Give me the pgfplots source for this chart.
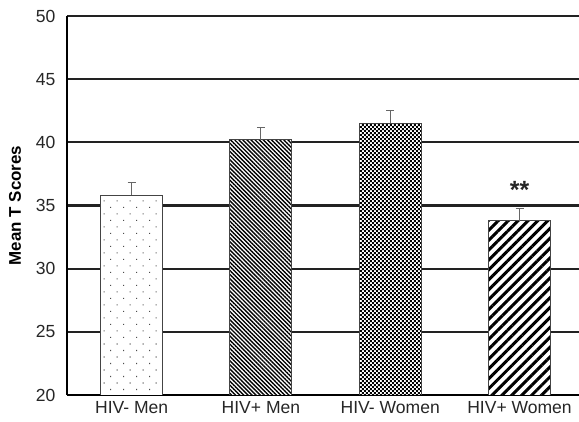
\documentclass[border=0pt]{standalone}
\usepackage{pgfplots}
\pgfplotsset{compat=1.18}
\usepackage{fontspec}
\setmainfont{Liberation Sans}
\usetikzlibrary{patterns,patterns.meta}

% small staggered squares for the HIV- Women bar
\pgfdeclarepatternformonly{checks}{\pgfpointorigin}{\pgfpoint{4.4bp}{4.4bp}}{\pgfpoint{4.4bp}{4.4bp}}{%
  \pgfpathrectangle{\pgfpointorigin}{\pgfpoint{2.1bp}{2.1bp}}%
  \pgfpathrectangle{\pgfpoint{2.2bp}{2.2bp}}{\pgfpoint{2.1bp}{2.1bp}}%
  \pgfusepath{fill}}

\definecolor{gridc}{HTML}{222222}
\definecolor{edgec}{HTML}{444444}

\begin{document}
\begin{tikzpicture}
  \begin{axis}[
    scale only axis,
    width=512bp, height=379bp,
    xmin=-0.5, xmax=3.46,
    ymin=20, ymax=50,
    ytick={20,25,...,50},
    xtick={0,1,2,3},
    xticklabels={HIV- Men, HIV+ Men, HIV- Women, HIV+ Women},
    axis x line=bottom, axis y line=left,
    axis line style={line width=2.4bp, black, -},
    major tick length=0pt,
    ymajorgrids=true,
    grid style={line width=2.1bp, gridc},
    tick label style={font=\fontsize{17.6}{20}\selectfont, text=black!85},
    /pgf/number format/assume math mode=true,
    yticklabel style={xshift=-8bp},
    xticklabel style={yshift=-3bp},
    ylabel={\bfseries Mean T Scores},
    ylabel style={font=\fontsize{17}{19}\selectfont, yshift=8bp},
    ybar, bar width=62bp,
    every axis plot/.append style={bar shift=0pt, draw=edgec, line width=0.9bp},
    error bars/y dir=plus, error bars/y explicit,
    error bars/error bar style={line width=1bp, gray!80!black},
    error bars/error mark options={rotate=90, mark size=4bp, line width=1bp, gray!80!black},
  ]
    \addplot[fill=white, postaction={pattern={Dots[distance=9.2bp, radius=0.8bp, angle=45]}, pattern color=black!70}]
      coordinates {(0,35.8) +- (0,1.0)};
    \addplot[fill=white, postaction={pattern={Lines[angle=-45, distance=2.9bp, line width=1.4bp]}, pattern color=black}]
      coordinates {(1,40.2) +- (0,1.0)};
    \addplot[fill=white, postaction={pattern=checks, pattern color=black}]
      coordinates {(2,41.5) +- (0,1.0)};
    \addplot[fill=white, postaction={pattern={Lines[angle=45, distance=7bp, line width=3bp]}, pattern color=black}]
      coordinates {(3,33.8) +- (0,1.0)};
    \node[anchor=base, font=\fontsize{25}{26}\selectfont\bfseries, text=black!85] at (axis cs:3,35.55) {**};
  \end{axis}
  \pgfresetboundingbox
  \path[use as bounding box] ([shift={(-67bp,-27bp)}]current axis.south west) rectangle ([shift={(0bp,16bp)}]current axis.north east);
\end{tikzpicture}
\end{document}
